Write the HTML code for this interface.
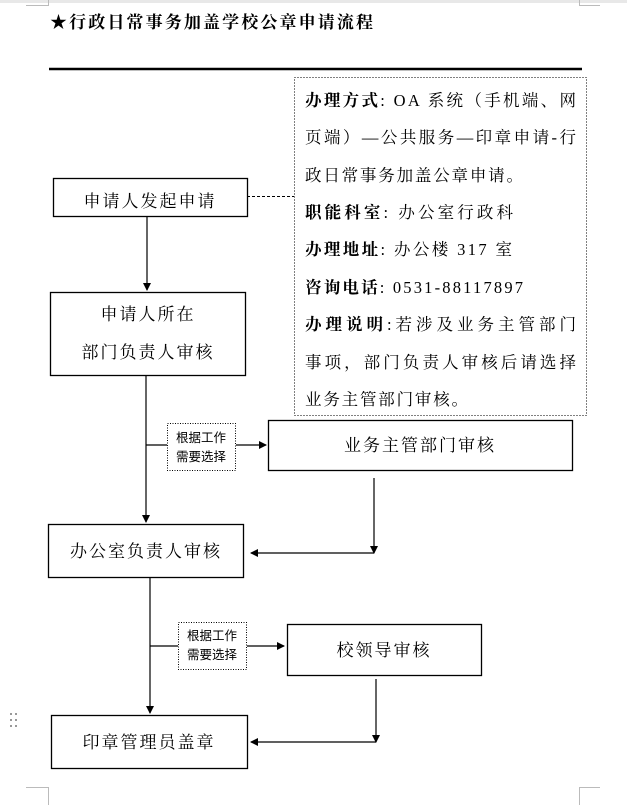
<!DOCTYPE html>
<html><head><meta charset="utf-8"><style>
html,body{margin:0;padding:0;background:#fff;}
body{width:627px;height:805px;overflow:hidden;position:relative;font-family:"Liberation Serif","Noto Serif CJK SC","Noto Sans CJK SC",serif;}
svg{position:absolute;left:0;top:0;}
text{font-family:"Liberation Serif","Noto Serif CJK SC","Noto Sans CJK SC",serif;fill:#000;}
.s{font-family:"Liberation Sans","Noto Sans CJK SC",sans-serif;}
</style></head><body>
<svg width="627" height="805" viewBox="0 0 627 805">
<defs><marker id="a" markerWidth="8" markerHeight="8" refX="7" refY="4" orient="auto" markerUnits="userSpaceOnUse"><path d="M0,0 L8,4 L0,8 z" fill="#000"/></marker></defs>
<rect x="0" y="0" width="627" height="3" fill="#e8e8e8"/>
<g stroke="#bbb" stroke-width="1" fill="none">
<path d="M26 5.5H48.5V0"/><path d="M600 5.5H579.5V0"/>
<path d="M26 787.5H48.5V805"/><path d="M600 787.5H579.5V805"/>
</g>
<g fill="#999"><rect x="10" y="713" width="2" height="2"/><rect x="15" y="713" width="2" height="2"/><rect x="10" y="719" width="2" height="2"/><rect x="15" y="719" width="2" height="2"/><rect x="10" y="725" width="2" height="2"/><rect x="15" y="725" width="2" height="2"/></g>
<text x="50" y="28" font-size="17" font-weight="bold" textLength="323" lengthAdjust="spacing">★行政日常事务加盖学校公章申请流程</text>
<line x1="49" y1="69" x2="582" y2="69" stroke="#000" stroke-width="2.5"/>
<rect x="294.5" y="77.5" width="292" height="338" fill="none" stroke="#000" stroke-dasharray="1,2"/>
<g font-size="16.5">
<text x="305" y="106" textLength="271" lengthAdjust="spacing"><tspan font-weight="bold">办理方式</tspan>: OA 系统（手机端、网</text>
<text x="305" y="143" textLength="271" lengthAdjust="spacing">页端）—公共服务—印章申请-行</text>
<text x="305" y="181" textLength="218" lengthAdjust="spacing">政日常事务加盖公章申请。</text>
<text x="305" y="218" textLength="208" lengthAdjust="spacing"><tspan font-weight="bold">职能科室</tspan>: 办公室行政科</text>
<text x="305" y="255" textLength="207" lengthAdjust="spacing"><tspan font-weight="bold">办理地址</tspan>: 办公楼 317 室</text>
<text x="305" y="293" textLength="218" lengthAdjust="spacing"><tspan font-weight="bold">咨询电话</tspan>: 0531-88117897</text>
<text x="305" y="330" textLength="271" lengthAdjust="spacing"><tspan font-weight="bold">办理说明</tspan>:若涉及业务主管部门</text>
<text x="305" y="368" textLength="271" lengthAdjust="spacing">事项，部门负责人审核后请选择</text>
<text x="305" y="405" textLength="163" lengthAdjust="spacing">业务主管部门审核。</text>
</g>
<g fill="none" stroke="#000" stroke-width="1.3">
<rect x="53.5" y="178.5" width="194" height="38"/>
<rect x="50.5" y="292.5" width="195" height="83"/>
<rect x="268.5" y="420.5" width="304" height="50"/>
<rect x="48.5" y="524.5" width="195" height="53"/>
<rect x="287.5" y="624.5" width="194" height="51"/>
<rect x="51.5" y="715.5" width="196" height="53"/>
</g>
<g fill="none" stroke="#000" stroke-width="1">
<rect x="167.5" y="423.5" width="68" height="47" stroke-dasharray="1,1.5"/>
<rect x="178.5" y="622.5" width="68" height="47" stroke-dasharray="1,1.5"/>
<line x1="247" y1="196.5" x2="294" y2="196.5" stroke-dasharray="3,2"/>
</g>
<g stroke="#000" stroke-width="1.2" fill="none">
<line x1="147" y1="217" x2="147" y2="290" marker-end="url(#a)"/>
<line x1="146" y1="376" x2="146" y2="522" marker-end="url(#a)"/>
<line x1="146" y1="445" x2="167" y2="445"/>
<line x1="236" y1="445" x2="266" y2="445" marker-end="url(#a)"/>
<line x1="374" y1="478" x2="374" y2="553" marker-end="url(#a)"/>
<line x1="374" y1="553" x2="251" y2="553" marker-end="url(#a)"/>
<line x1="150" y1="578" x2="150" y2="713" marker-end="url(#a)"/>
<line x1="150" y1="646" x2="178" y2="646"/>
<line x1="247" y1="646" x2="284" y2="646" marker-end="url(#a)"/>
<line x1="376" y1="679" x2="376" y2="742" marker-end="url(#a)"/>
<line x1="376" y1="742" x2="251" y2="742" marker-end="url(#a)"/>
</g>
<g font-size="17" text-anchor="middle" letter-spacing="2">
<text x="150" y="207">申请人发起申请</text>
<text x="148" y="320">申请人所在</text>
<text x="148" y="358">部门负责人审核</text>
<text x="420" y="451">业务主管部门审核</text>
<text x="146" y="557">办公室负责人审核</text>
<text x="384" y="656">校领导审核</text>
<text x="149" y="748">印章管理员盖章</text>
</g>
<g font-size="12.5" text-anchor="middle" class="s">
<text class="s" x="201" y="442">根据工作</text>
<text class="s" x="201" y="461">需要选择</text>
<text class="s" x="212" y="640">根据工作</text>
<text class="s" x="212" y="659">需要选择</text>
</g>
</svg>
</body></html>
